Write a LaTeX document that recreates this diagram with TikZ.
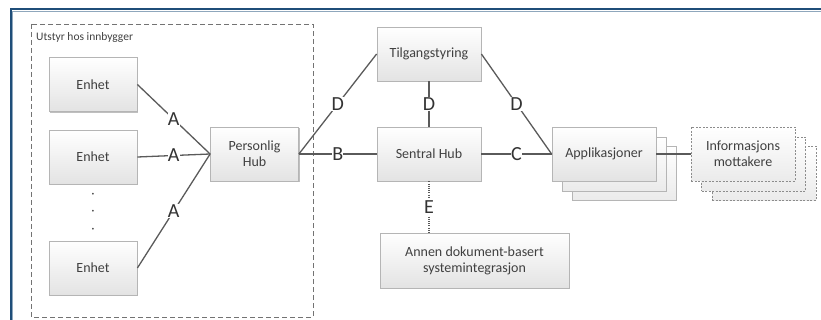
\documentclass[tikz,border=0pt]{standalone}
\usepackage{fontspec}
\setmainfont{Carlito}
\usetikzlibrary{shadows}
\definecolor{txt}{HTML}{404040}
\definecolor{ln}{HTML}{5A5A5A}
\definecolor{bd}{HTML}{B5B5B5}
\definecolor{frame}{HTML}{1F4E79}
\tikzset{
  box/.style={draw=bd, line width=0.8pt, top color=white, bottom color=black!11,
    minimum width=#1, minimum height=54pt, align=center, text=txt,
    font=\fontsize{14}{16}\selectfont, inner sep=2pt,
    drop shadow={shadow xshift=1.2pt, shadow yshift=-1.2pt, opacity=0.25, fill=black}},
  box/.default=88pt,
  backbox/.style={draw=bd, line width=0.8pt, top color=white, bottom color=black!8,
    minimum width=104pt, minimum height=54pt},
  dbox/.style={draw=black!45, dashed, dash pattern=on 2pt off 1.5pt, line width=0.7pt,
    top color=white, bottom color=black!8, minimum width=104pt, minimum height=54pt,
    align=center, text=txt, font=\fontsize{14}{16}\selectfont},
  conn/.style={draw=ln, line width=1.3pt},
  lbl/.style={fill=white, inner sep=0.3pt, text=black!80, font=\fontsize{20}{20}\selectfont},
  dotdot/.style={text=txt, font=\fontsize{16}{16}\selectfont, inner sep=0},
}
\begin{document}
\begin{tikzpicture}[x=1pt,y=-1pt]
\useasboundingbox (0,0) rectangle (821,320);
% outer frame
\draw[frame, line width=2pt] (10.5,320) -- (10.5,9.5) -- (821,9.5);
\draw[frame!50, line width=0.6pt] (12,320) -- (12,11) -- (821,11);
% container
\draw[black!55, line width=0.9pt, dash pattern=on 5pt off 3pt] (31,24) rectangle (313,317);
\node[anchor=west, text=txt, font=\fontsize{11.5}{13}\selectfont, inner sep=0] (ulbl) at (36,37) {Utstyr hos innbygger};
% Enhet boxes
\node[box] (e1) at (93,84.5) {Enhet};
\node[box] (e2) at (93,157) {Enhet};
\node[box] (e3) at (93,268) {Enhet};
\node[dotdot] (dots1) at (93,195) {$\cdot$};
\node[dotdot] (dots) at (93,212) {$\cdot$};
\node[dotdot] (dots2) at (93,230) {$\cdot$};
% hubs
\node[box] (ph) at (254.5,154) {Personlig\\Hub};
\node[box=104pt] (tg) at (429,54) {Tilgangstyring};
\node[box=104pt] (sh) at (429,154) {Sentral Hub};
\node[box=189pt, minimum height=55pt] (an) at (474.5,260.5) {Annen dokument-basert\\systemintegrasjon};
% applications stack
\node[backbox] (app3) at (624.5,173.5) {};
\node[backbox] (app2) at (614.5,164) {};
\node[box=104pt] (app) at (604,154) {Applikasjoner};
% info receivers stack
\node[dbox] (inf3) at (764,173.5) {};
\node[dbox] (inf2) at (753.5,164) {};
\node[dbox] (inf) at (743,154) {Informasjons\\mottakere};
% connectors
\draw[conn] (e1.east) -- node[lbl]{A} (ph.west);
\draw[conn] (e2.east) -- node[lbl]{A} (ph.west);
\draw[conn] (e3.east) -- node[lbl]{A} (ph.west);
\draw[conn] (ph.east) -- node[lbl]{D} (tg.west);
\draw[conn] (ph.east) -- node[lbl]{B} (sh.west);
\draw[conn] (tg.south) -- node[lbl]{D} (sh.north);
\draw[conn] (tg.east) -- node[lbl]{D} (app.west);
\draw[conn] (sh.east) -- node[lbl]{C} (app.west);
\draw[conn, line width=1.2pt, dash pattern=on 1pt off 1.2pt] (sh.south) -- node[lbl, inner ysep=2pt]{E} (sh.south |- an.north);
\draw[conn] (app.east) -- (inf.west);
\end{tikzpicture}
\end{document}
